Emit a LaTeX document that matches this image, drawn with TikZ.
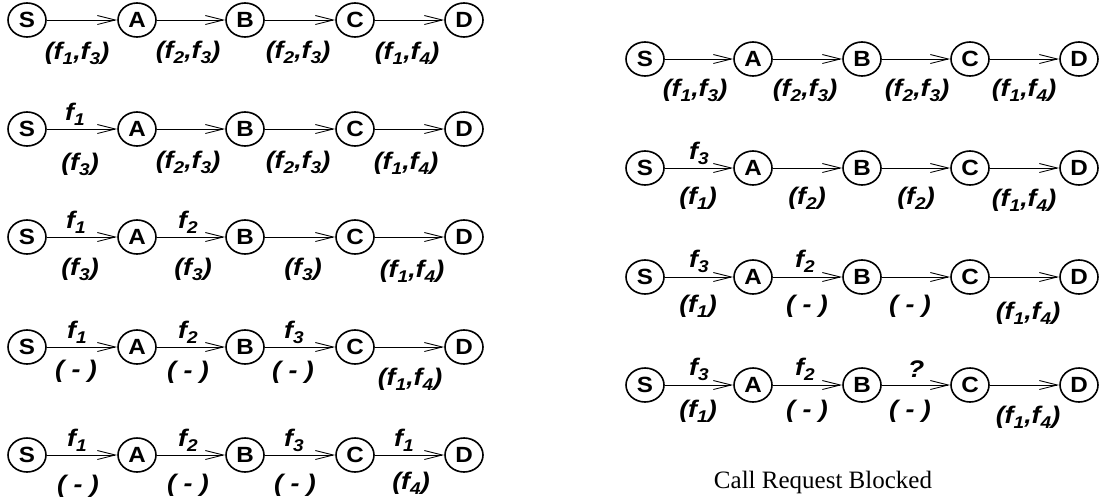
\documentclass[tikz,border=0pt]{standalone}
\usepackage{fontspec}
\setmainfont{Liberation Serif}
\setsansfont{Liberation Sans}
\usetikzlibrary{arrows.meta,shapes.geometric}
\newcommand\fsub[1]{\raisebox{-5pt}{\fontsize{17}{17}\selectfont #1}}
\newcommand\lbltxt[1]{\scalebox{1.12}[1]{\fontsize{24}{24}\selectfont\sffamily\bfseries\itshape #1}}
\newcommand\vtxtxt[1]{\scalebox{1.1}[1]{#1}}
\newcommand\pp[2]{(f\fsub{#1},f\fsub{#2})}
\newcommand\po[1]{(f\fsub{#1})}
\newcommand\fo[1]{f\fsub{#1}}
\newcommand\nd{( - )}
\tikzset{
 vtx/.style={draw, line width=1.6pt, ellipse, minimum width=38pt, minimum height=34pt, inner sep=0pt, font=\fontsize{22}{22}\selectfont\sffamily\bfseries},
 conn/.style={line width=1pt, -{Straight Barb[length=18pt,width=9pt,line width=0.9pt]}},
 lbl/.style={anchor=base, inner sep=0pt},
}
\begin{document}
\begin{tikzpicture}[x=1pt,y=-1pt]
\useasboundingbox (0,0) rectangle (1101,499);
% left column
\foreach \r/\y in {1/20,2/129,3/237,4/347,5/455} {
  \foreach \n/\x in {S/27,A/137,B/245,C/355,D/464}
    \node[vtx] (L\r\n) at (\x,\y) {\vtxtxt{\n}};
  \draw[conn] (L\r S) -- (L\r A);
  \draw[conn] (L\r A) -- (L\r B);
  \draw[conn] (L\r B) -- (L\r C);
  \draw[conn] (L\r C) -- (L\r D);
}
% right column
\foreach \r/\y in {1/59,2/168,3/277,4/385} {
  \foreach \n/\x in {S/645,A/753,B/862,C/970,D/1079}
    \node[vtx] (R\r\n) at (\x,\y) {\vtxtxt{\n}};
  \draw[conn] (R\r S) -- (R\r A);
  \draw[conn] (R\r A) -- (R\r B);
  \draw[conn] (R\r B) -- (R\r C);
  \draw[conn] (R\r C) -- (R\r D);
}
% left labels
\node[lbl] (l1a) at (77,59) {\lbltxt{\pp{1}{3}}};
\node[lbl] (l1b) at (188,58) {\lbltxt{\pp{2}{3}}};
\node[lbl] (l1c) at (298,58) {\lbltxt{\pp{2}{3}}};
\node[lbl] (l1d) at (407,59) {\lbltxt{\pp{1}{4}}};

\node[lbl] (l2t) at (75,120) {\lbltxt{\fo{1}}};
\node[lbl] (l2a) at (80,170) {\lbltxt{\po{3}}};
\node[lbl] (l2b) at (188,168) {\lbltxt{\pp{2}{3}}};
\node[lbl] (l2c) at (298,168) {\lbltxt{\pp{2}{3}}};
\node[lbl] (l2d) at (406,169) {\lbltxt{\pp{1}{4}}};

\node[lbl] (l3t) at (76,228) {\lbltxt{\fo{1}}};
\node[lbl] (l3u) at (188,228) {\lbltxt{\fo{2}}};
\node[lbl] (l3a) at (80,275) {\lbltxt{\po{3}}};
\node[lbl] (l3b) at (193,275) {\lbltxt{\po{3}}};
\node[lbl] (l3c) at (303,275) {\lbltxt{\po{3}}};
\node[lbl] (l3d) at (412,277) {\lbltxt{\pp{1}{4}}};

\node[lbl] (l4t) at (77,338) {\lbltxt{\fo{1}}};
\node[lbl] (l4u) at (188,338) {\lbltxt{\fo{2}}};
\node[lbl] (l4v) at (294,338) {\lbltxt{\fo{3}}};
\node[lbl] (l4a) at (76,377) {\lbltxt{\nd}};
\node[lbl] (l4b) at (188,378) {\lbltxt{\nd}};
\node[lbl] (l4c) at (293,378) {\lbltxt{\nd}};
\node[lbl] (l4d) at (410,385) {\lbltxt{\pp{1}{4}}};

\node[lbl] (l5t) at (77,446) {\lbltxt{\fo{1}}};
\node[lbl] (l5u) at (188,446) {\lbltxt{\fo{2}}};
\node[lbl] (l5v) at (294,446) {\lbltxt{\fo{3}}};
\node[lbl] (l5w) at (404,446) {\lbltxt{\fo{1}}};
\node[lbl] (l5a) at (78,492) {\lbltxt{\nd}};
\node[lbl] (l5b) at (188,491) {\lbltxt{\nd}};
\node[lbl] (l5c) at (295,491) {\lbltxt{\nd}};
\node[lbl] (l5d) at (411,489) {\lbltxt{\po{4}}};
% right labels
\node[lbl] (r1a) at (695,96) {\lbltxt{\pp{1}{3}}};
\node[lbl] (r1b) at (805,96) {\lbltxt{\pp{2}{3}}};
\node[lbl] (r1c) at (917,96) {\lbltxt{\pp{2}{3}}};
\node[lbl] (r1d) at (1024,96) {\lbltxt{\pp{1}{4}}};

\node[lbl] (r2t) at (699,159) {\lbltxt{\fo{3}}};
\node[lbl] (r2a) at (698,204) {\lbltxt{\po{1}}};
\node[lbl] (r2b) at (807,204) {\lbltxt{\po{2}}};
\node[lbl] (r2c) at (916,204) {\lbltxt{\po{2}}};
\node[lbl] (r2d) at (1024,206) {\lbltxt{\pp{1}{4}}};

\node[lbl] (r3t) at (699,267) {\lbltxt{\fo{3}}};
\node[lbl] (r3u) at (805,267) {\lbltxt{\fo{2}}};
\node[lbl] (r3a) at (698,312) {\lbltxt{\po{1}}};
\node[lbl] (r3b) at (807,312) {\lbltxt{\nd}};
\node[lbl] (r3c) at (910,312) {\lbltxt{\nd}};
\node[lbl] (r3d) at (1028,319) {\lbltxt{\pp{1}{4}}};

\node[lbl] (r4t) at (699,375) {\lbltxt{\fo{3}}};
\node[lbl] (r4u) at (805,375) {\lbltxt{\fo{2}}};
\node[lbl] (r4v) at (916,377) {\lbltxt{?}};
\node[lbl] (r4a) at (698,417) {\lbltxt{\po{1}}};
\node[lbl] (r4b) at (807,417) {\lbltxt{\nd}};
\node[lbl] (r4c) at (910,417) {\lbltxt{\nd}};
\node[lbl] (r4d) at (1028,423) {\lbltxt{\pp{1}{4}}};

\node[lbl, font=\fontsize{25}{25}\selectfont] (cap) at (823,488) {Call Request Blocked};
\end{tikzpicture}
\end{document}
